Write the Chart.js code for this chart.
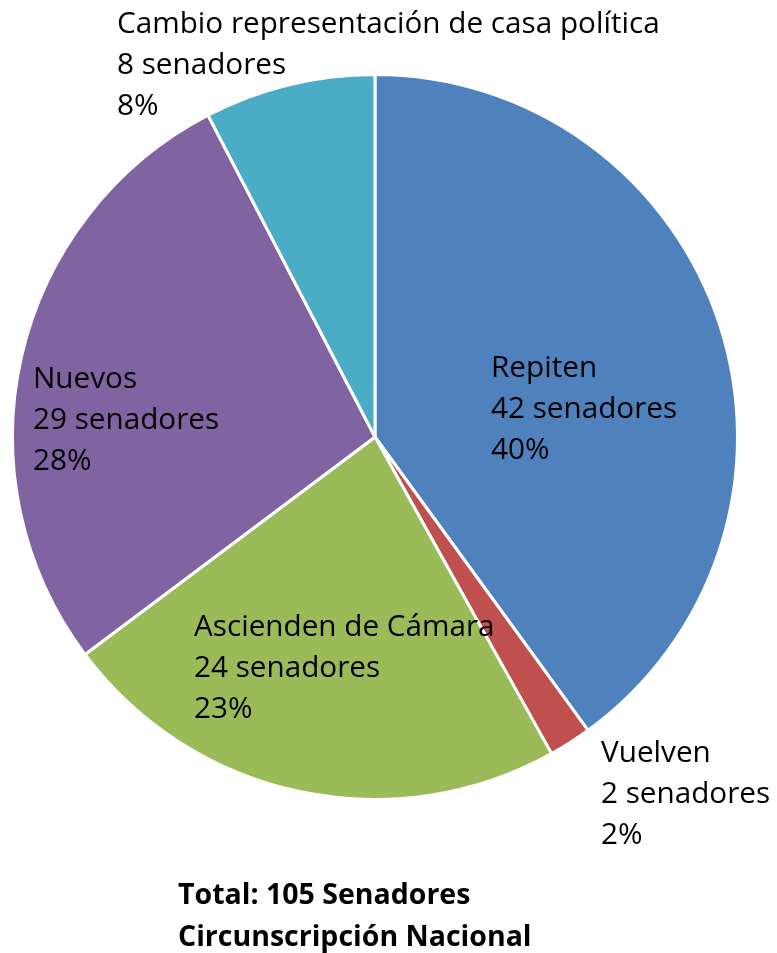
<!DOCTYPE html>
<html>
<head>
<meta charset="utf-8">
<script src="https://cdn.jsdelivr.net/npm/chart.js@4/dist/chart.umd.min.js"></script>
<style>
  html, body { margin: 0; padding: 0; background: #fff; }
  #wrap { width: 777px; height: 953px; }
</style>
</head>
<body>
<div id="wrap"><canvas id="pie" width="777" height="953"></canvas></div>
<script>
// Chart data
const categories = ['Repiten', 'Vuelven', 'Ascienden de Cámara', 'Nuevos', 'Cambio representación de casa política'];
const senators = [42, 2, 24, 29, 8];
const sliceColors = ['#4F81BD', '#C0504D', '#9BBB59', '#8064A2', '#4BACC6'];
const titleLines = ['Total: 105 Senadores', 'Circunscripción Nacional'];

// label block: x, first baseline y
const labelPos = [
    [491, 377],
    [601, 762],
    [194, 636],
    [33, 388],
    [117, 33]
];

const FONT = '"Open Sans", "Liberation Sans", sans-serif';
const LINE_H = 41;

const labelPlugin = {
    id: 'sliceLabels',
    afterDraw(chart) {
        const ctx = chart.ctx;
        const data = chart.data.datasets[0].data;
        const total = data.reduce((a, b) => a + b, 0);
        ctx.save();
        ctx.fillStyle = '#000';
        ctx.textAlign = 'left';
        ctx.textBaseline = 'alphabetic';
        ctx.font = '29.7px ' + FONT;
        data.forEach((v, i) => {
            const [x, y] = labelPos[i];
            const lines = [
                chart.data.labels[i],
                v + ' senadores',
                Math.round(v / total * 100) + '%'
            ];
            lines.forEach((t, j) => ctx.fillText(t, x, y + j * LINE_H));
        });
        ctx.font = 'bold 28.5px ' + FONT;
        titleLines.forEach((t, j) => ctx.fillText(t, 178, 904 + j * 42));
        ctx.restore();
    }
};

new Chart(document.getElementById('pie'), {
    type: 'pie',
    data: {
        labels: categories,
        datasets: [{
            data: senators,
            backgroundColor: sliceColors,
            borderColor: '#fff',
            borderWidth: 3
        }]
    },
    options: {
        responsive: false,
        animation: false,
        layout: { padding: { left: 11, right: 38, top: 73, bottom: 152 } },
        plugins: {
            legend: { display: false },
            tooltip: { enabled: false }
        }
    },
    plugins: [labelPlugin]
});
</script>
</body>
</html>
